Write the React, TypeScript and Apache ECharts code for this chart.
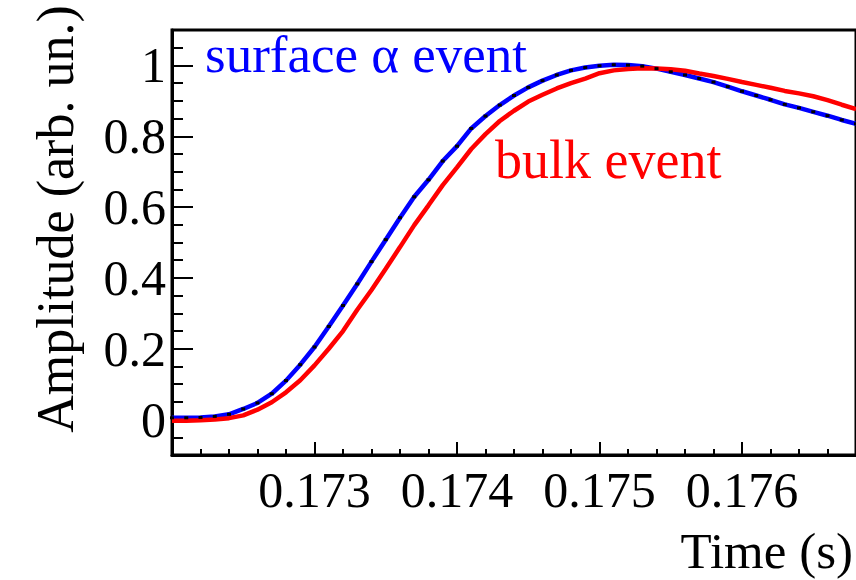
import React, { useEffect, useRef } from "react";
import * as echarts from "echarts";

const TIME = [
  0.172, 0.1721, 0.1722, 0.1723, 0.1724, 0.1725, 0.1726, 0.1727, 0.1728, 0.1729,
  0.173, 0.1731, 0.1732, 0.1733, 0.1734, 0.1735, 0.1736, 0.1737, 0.1738, 0.1739,
  0.174, 0.1741, 0.1742, 0.1743, 0.1744, 0.1745, 0.1746, 0.1747, 0.1748, 0.1749,
  0.175, 0.1751, 0.1752, 0.1753, 0.1754, 0.1755, 0.1756, 0.1757, 0.1758, 0.1759,
  0.176, 0.1761, 0.1762, 0.1763, 0.1764, 0.1765, 0.1766, 0.1767, 0.1768,
];

const SURFACE = [
  0.005, 0.005, 0.006, 0.009, 0.015, 0.03, 0.047, 0.073, 0.11, 0.155,
  0.205, 0.263, 0.322, 0.383, 0.446, 0.508, 0.57, 0.629, 0.677, 0.73,
  0.772, 0.822, 0.857, 0.888, 0.915, 0.938, 0.957, 0.973, 0.986, 0.994,
  0.999, 1.002, 1.001, 0.998, 0.991, 0.982, 0.973, 0.963, 0.953, 0.94,
  0.927, 0.915, 0.903, 0.89, 0.88, 0.869, 0.858, 0.846, 0.835,
];

const BULK = [
  -0.003, -0.003, -0.002, 0.0, 0.004, 0.012, 0.028, 0.049, 0.077, 0.111,
  0.153, 0.2, 0.25, 0.31, 0.366, 0.426, 0.487, 0.549, 0.605, 0.662,
  0.712, 0.764, 0.806, 0.843, 0.872, 0.898, 0.917, 0.935, 0.95, 0.963,
  0.978, 0.986, 0.99, 0.992, 0.991, 0.989, 0.985, 0.977, 0.97, 0.962,
  0.953, 0.945, 0.937, 0.928, 0.921, 0.913, 0.902, 0.889, 0.877,
];

const X_LABELS = [0.173, 0.174, 0.175, 0.176];
const X_MAJOR = [0.172, 0.173, 0.174, 0.175, 0.176];
const X_MINOR = [
  0.1722, 0.1724, 0.1726, 0.1728, 0.1732, 0.1734, 0.1736, 0.1738,
  0.1742, 0.1744, 0.1746, 0.1748, 0.1752, 0.1754, 0.1756, 0.1758,
  0.1762, 0.1764, 0.1766,
];
const Y_LABELS = [0, 0.2, 0.4, 0.6, 0.8, 1];
const Y_MINOR = [
  -0.1, -0.05, 0.05, 0.1, 0.15, 0.25, 0.3, 0.35, 0.45, 0.5, 0.55,
  0.65, 0.7, 0.75, 0.85, 0.9, 0.95, 1.05,
];

const X_MIN = 0.172;
const X_MAX = 0.1768;
const Y_MIN = -0.1;
const Y_MAX = 1.1;

const FONT = '"Liberation Serif", "Times New Roman", serif';

export default function App() {
  const ref = useRef<HTMLDivElement>(null);
  useEffect(() => {
    if (!ref.current) return;
    const chart = echarts.init(ref.current, null, { renderer: "svg" });
    const surf = TIME.map((t, i) => [t, SURFACE[i]]);
    const bulk = TIME.map((t, i) => [t, BULK[i]]);
    const labelStyle = { color: "#000", fontFamily: FONT, fontSize: 50 };
    chart.setOption({
      animation: false,
      grid: {
        left: 172,
        top: 30,
        width: 696,
        height: 425,
        show: true,
        borderColor: "#000",
        borderWidth: 3,
        backgroundColor: "transparent",
      },
      xAxis: [
        {
          type: "value",
          min: X_MIN,
          max: X_MAX,
          position: "bottom",
          axisLine: { show: true, onZero: false, lineStyle: { color: "#000", width: 3 } },
          axisTick: {
            show: true,
            inside: true,
            length: 13,
            customValues: X_MAJOR,
            lineStyle: { color: "#000", width: 2 },
          },
          axisLabel: {
            ...labelStyle,
            margin: 10,
            customValues: X_LABELS,
            formatter: (v: number) => v.toFixed(3),
          },
          splitLine: { show: false },
        },
        {
          type: "value",
          min: X_MIN,
          max: X_MAX,
          position: "bottom",
          axisLine: { show: false, onZero: false },
          axisTick: {
            show: true,
            inside: true,
            length: 6,
            customValues: X_MINOR,
            lineStyle: { color: "#000", width: 2 },
          },
          axisLabel: { show: false, customValues: X_MINOR },
          splitLine: { show: false },
        },
      ],
      yAxis: [
        {
          type: "value",
          min: Y_MIN,
          max: Y_MAX,
          position: "left",
          axisLine: { show: true, onZero: false, lineStyle: { color: "#000", width: 3 } },
          axisTick: {
            show: true,
            inside: true,
            length: 21,
            customValues: Y_LABELS,
            lineStyle: { color: "#000", width: 2 },
          },
          axisLabel: {
            ...labelStyle,
            margin: 6,
            customValues: Y_LABELS,
            formatter: (v: number) => String(v),
          },
          splitLine: { show: false },
        },
        {
          type: "value",
          min: Y_MIN,
          max: Y_MAX,
          position: "left",
          offset: 0,
          axisLine: { show: false, onZero: false },
          axisTick: {
            show: true,
            inside: true,
            length: 11,
            customValues: Y_MINOR,
            lineStyle: { color: "#000", width: 2 },
          },
          axisLabel: { show: false, customValues: Y_MINOR },
          splitLine: { show: false },
        },
      ],
      series: [
        {
          name: "surface",
          type: "line",
          data: surf,
          showSymbol: false,
          symbol: "none",
          lineStyle: { color: "#0000ff", width: 4.5 },
          z: 2,
        },
        {
          name: "bulk",
          type: "line",
          data: bulk,
          showSymbol: false,
          symbol: "none",
          lineStyle: { color: "#ff0000", width: 4.5 },
          z: 3,
        },
        {
          name: "fit",
          type: "scatter",
          data: surf,
          symbol: "rect",
          symbolSize: [4, 3],
          itemStyle: { color: "#000", opacity: 1 },
          z: 10,
        },
      ],
      graphic: [
        {
          type: "text",
          x: 55,
          y: 219,
          rotation: Math.PI / 2,
          style: {
            text: "Amplitude (arb. un.)",
            font: `52px ${FONT}`,
            fill: "#000",
            align: "center",
            verticalAlign: "middle",
          },
        },
        {
          type: "text",
          x: 853,
          y: 551,
          style: {
            text: "Time (s)",
            font: `51px ${FONT}`,
            fill: "#000",
            align: "right",
            verticalAlign: "middle",
          },
        },
        {
          type: "text",
          x: 205,
          y: 54,
          style: {
            text: "surface α event",
            font: `53px ${FONT}`,
            fill: "#0000ff",
            align: "left",
            verticalAlign: "middle",
          },
        },
        {
          type: "text",
          x: 495,
          y: 160,
          style: {
            text: "bulk event",
            font: `54px ${FONT}`,
            fill: "#ff0000",
            align: "left",
            verticalAlign: "middle",
          },
        },
      ],
    });
    return () => chart.dispose();
  }, []);
  return (
    <div
      ref={ref}
      style={{ position: "absolute", left: 0, top: 0, width: 856, height: 580 }}
    />
  );
}
